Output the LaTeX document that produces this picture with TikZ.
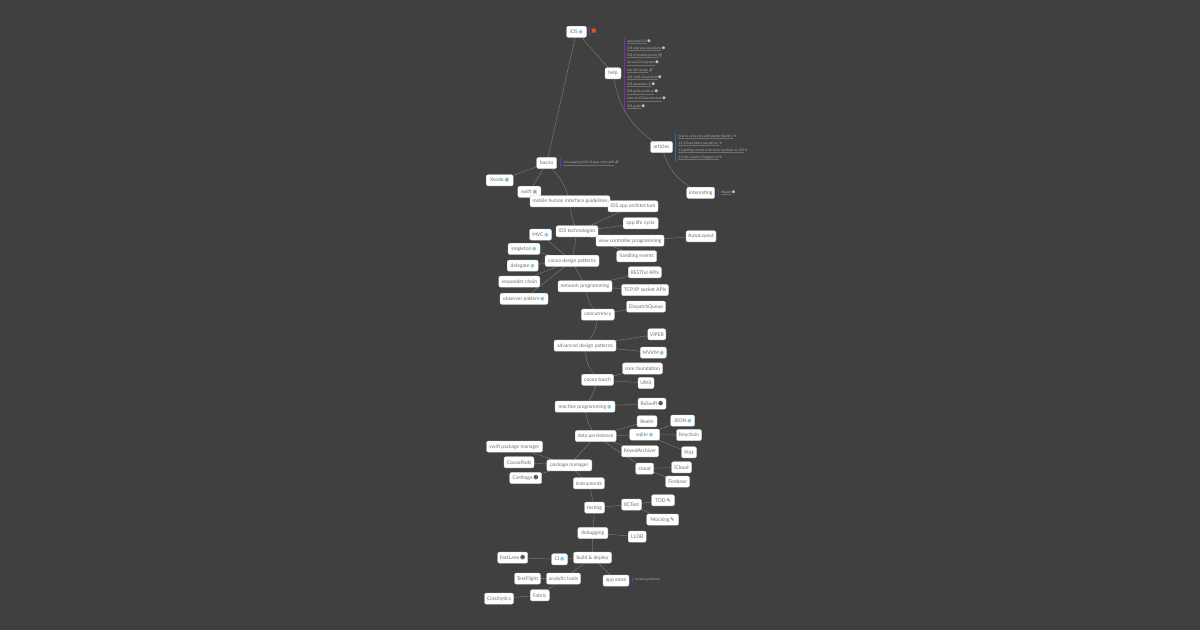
\documentclass[tikz,border=0pt]{standalone}
\usepackage{fontspec}
\setmainfont{Lato}
\newfontfamily\dejavu{DejaVu Sans}
\newfontfamily\emojifont{Noto Emoji}
\usetikzlibrary{backgrounds}
\definecolor{bgdark}{HTML}{404040}
\definecolor{nodetext}{HTML}{707070}
\definecolor{edgegray}{HTML}{858585}
\definecolor{barpurple}{HTML}{7A2DB0}
\definecolor{barblue}{HTML}{2F6E9E}
\definecolor{linktext}{HTML}{B0B0B0}
\definecolor{linkrule}{HTML}{6E6E6E}
\definecolor{globeblue}{HTML}{8CCBEA}
\definecolor{iconred}{HTML}{E8501F}
\definecolor{iconbox}{HTML}{6FA9C9}
\newcommand\globeicon{\,{\dejavu\textcolor{globeblue}{●}}}
\newcommand\faceicon{\,{\dejavu\textcolor{black!75}{☻}}}
\newcommand\faceleaf{\,\smash{\dejavu\textcolor{white!85!black}{☻}}}
\newcommand\penicon{\,{\dejavu\textcolor{black!75}{✎}}}
\newcommand\penleaf{\,\smash{\dejavu\textcolor{white!85!black}{✎}}}
\newcommand\linkleaf{\,\smash{\emojifont\textcolor{white!80!black}{🔗}}}
\newcommand\docleaf{\,\smash{\emojifont\textcolor{white}{📄}}}
\newcommand\boxicon{\,{\dejavu\textcolor{iconbox}{▣}}}
\newsavebox\leafbox
\newcommand\thinline[1]{\sbox\leafbox{#1}\rlap{\textcolor{linkrule}{\vrule height -0.7pt depth 0.95pt width \wd\leafbox}}\usebox\leafbox}
\tikzset{
  box/.style={fill=white,draw=black!18,line width=0.3pt,rounded corners=1.5pt,inner sep=0pt,
    minimum height=8.4pt,font=\fontsize{3.75}{4}\selectfont,text=nodetext,yshift=-0.25pt},
  leaf/.style={anchor=west,inner sep=0pt,font=\fontsize{2.45}{3}\selectfont,text=linktext},
  edge/.style={draw=edgegray,line width=0.38pt,dash pattern=on 1.1pt off 0.5pt},
  bar/.style={line width=0.8pt}
}
\newcommand\nd[5]{\node[box,minimum width=#4*0.75pt] (#1) at (#2,#3) {#5};}
% name, x, y, underlined text, icon
\newcommand\lf[5]{\node[leaf] (#1) at (#2,#3) {\thinline{#4}#5};}
\begin{document}
\begin{tikzpicture}[x=0.75pt,y=-0.75pt]
\useasboundingbox (0,0) rectangle (1200,630);
\nd{ios}{576.5}{31.5}{20}{iOS\globeicon}
\nd{help}{613}{73}{16}{help}
\nd{articles}{661.5}{146.7}{22}{articles}
\nd{interesting}{700.7}{192.5}{28}{interesting}
\nd{basics}{546.7}{162.7}{20}{basics}
\nd{xcode}{499.7}{180}{27}{Xcode\boxicon}
\nd{swift}{529.3}{191.5}{23}{swift\boxicon}
\nd{mobile}{570}{201}{80}{mobile human interface guidelines}
\nd{arch}{633}{206}{50}{iOS app architecture}
\nd{tech}{577}{231}{42}{iOS technologies}
\nd{life}{640.7}{223}{35}{app life cycle}
\nd{vc}{630}{240.3}{68}{view controller programming}
\nd{auto}{701}{236}{30}{AutoLayout}
\nd{events}{636.7}{256}{40}{handling events}
\nd{mvc}{540.5}{234.3}{22}{MVC\globeicon}
\nd{single}{524}{248.5}{32}{singleton\globeicon}
\nd{cocoa}{572}{260.5}{54}{cocoa design patterns}
\nd{delegate}{522.7}{265.3}{31}{delegate\globeicon}
\nd{responder}{519.3}{281.3}{41}{responder chain}
\nd{observer}{524}{298.5}{48}{observer pattern\globeicon}
\nd{rest}{644.8}{272}{33}{RESTful APIs}
\nd{network}{585}{286}{54}{network programming}
\nd{tcp}{645}{289.7}{47}{TCP/IP socket APIs}
\nd{dispatch}{646}{306.3}{39}{DispatchQueue}
\nd{concur}{597.8}{314.3}{33}{concurrency}
\nd{viper}{656.8}{334}{18}{VIPER}
\nd{advanced}{585}{345.3}{62}{advanced design patterns}
\nd{mvvm}{653.3}{352.3}{26}{MVVM\globeicon}
\nd{core}{642.5}{368.2}{40}{core foundation}
\nd{touch}{597.5}{379.5}{32}{cocoa touch}
\nd{uikit}{646}{382.7}{16}{UIKit}
\nd{rx}{652}{403.3}{28}{RxSwift\faceicon}
\nd{reactive}{585}{406.3}{60}{reactive programming\globeicon}
\nd{realm}{647}{421}{20}{Realm}
\nd{json}{682.7}{420.3}{24}{JSON\globeicon}
\nd{sqlite}{644.7}{434.3}{30}{sqlite\globeicon}
\nd{keychain}{689}{434.7}{25}{Keychain}
\nd{data}{595.7}{435.7}{41}{data persistence}
\nd{keyed}{640}{451}{37}{KeyedArchiver}
\nd{plist}{689}{452}{15}{Plist}
\nd{cloud}{644.7}{468.3}{18}{cloud}
\nd{icloud}{681.5}{467}{20}{iCloud}
\nd{firebase}{677.5}{481.3}{24}{Firebase}
\nd{spm}{514.5}{446.3}{56}{swift package manager}
\nd{pods}{519}{462}{30}{CocoaPods}
\nd{package}{569.3}{465}{45}{package manager}
\nd{carthage}{525.7}{477.7}{32}{Carthage\faceicon}
\nd{instr}{588.8}{483}{31}{instruments}
\nd{tdd}{663}{500}{23}{TDD\penicon}
\nd{xctest}{631.5}{504.3}{20}{XCTest}
\nd{testing}{594.5}{507.3}{20}{testing}
\nd{mocking}{662.7}{519.3}{32}{Mocking\penicon}
\nd{debug}{592.8}{532.7}{30}{debugging}
\nd{lldb}{637.2}{536.3}{18}{LLDB}
\nd{fast}{512.7}{557.3}{30}{FastLane\faceicon}
\nd{ci}{559.5}{559}{16}{CI\globeicon}
\nd{build}{592.5}{557.3}{38}{build \& deploy}
\nd{flight}{527.5}{578.3}{26}{TestFlight}
\nd{analytic}{563.5}{578.3}{34}{analytic tools}
\nd{appstore}{616}{580.3}{26}{app store}
\nd{fabric}{539.8}{595}{19}{Fabric}
\nd{crash}{499}{598.3}{29}{Crashlytics}
% leaf links
\node[inner sep=0pt,font=\fontsize{4}{4}\selectfont] (redicon) at (594,31.5) {{\dejavu\textcolor{iconred}{■}}};
\lf{h1}{627}{41.5}{awesome iOS}{\faceleaf}
\lf{h2}{627}{48.7}{iOS interview questions}{\faceleaf}
\lf{h3}{627}{56}{iOS UI prototype doc}{\docleaf}
\lf{h4}{627}{63.2}{secure iOS app doc}{\faceleaf}
\lf{h5}{627}{70.5}{top iOS design}{\linkleaf}
\lf{h6}{627}{77.7}{iOS swift cheat sheet}{\faceleaf}
\lf{h7}{627}{85}{iOS awesome UI}{\faceleaf}
\lf{h8}{627}{92.2}{iOS good practices}{\faceleaf}
\lf{h9}{627}{99.4}{intro to iOS architecture}{\faceleaf}
\lf{h10}{627}{106.5}{iOS guide}{\faceleaf}
\lf{a1}{678}{137}{how to write nice with platformbuild y}{\penleaf}
\lf{a2}{678}{144}{1.1 iOS architect pro pdf tu..}{\penleaf}
\lf{a3}{678}{151}{1.2 getting started with stack overflow on iOS}{\penleaf}
\lf{a4}{678}{158}{1.2 the review is flagged out}{\penleaf}
\lf{b1}{563}{163.2}{1.4 assigning iOS UI apps with swift}{\linkleaf}
\lf{i1}{721}{193}{iWatch}{\faceleaf}
\node[leaf] (s1) at (635,580) {review guidelines};
\begin{scope}[on background layer]
\fill[bgdark] (0,0) rectangle (1200,630);
\draw[bar,barpurple] (589.5,27) -- (589.5,35);
\draw[bar,barpurple] (624.5,38) -- (624.5,109);
\draw[bar,barblue] (675.5,133) -- (675.5,162);
\draw[bar,barpurple] (560.5,157) -- (560.5,167);
\draw[bar,barpurple] (718.5,189) -- (718.5,196);
\draw[bar,barpurple] (632.7,577) -- (632.7,583);
\path[edge] (ios) -- (basics);
\path[edge] (ios) -- (help);
\path[edge] (help) to[bend right=22] (articles);
\path[edge] (articles) to[bend right=20] (interesting);
\path[edge] (basics) -- (xcode);
\path[edge] (basics) -- (swift);
\path[edge] (basics) to[bend left=12] (mobile);
\path[edge] (mobile) to[bend right=8] (tech);
\path[edge] (tech) -- (arch);
\path[edge] (tech) -- (life);
\path[edge] (tech) -- (vc);
\path[edge] (tech) -- (events);
\path[edge] (vc) -- (auto);
\path[edge] (tech) -- (cocoa);
\path[edge] (cocoa) -- (mvc);
\path[edge] (cocoa) -- (single);
\path[edge] (cocoa) -- (delegate);
\path[edge] (cocoa) -- (responder);
\path[edge] (cocoa) -- (observer);
\path[edge] (cocoa) -- (network);
\path[edge] (network) -- (rest);
\path[edge] (network) -- (tcp);
\path[edge] (network) to[bend right=12] (concur);
\path[edge] (concur) -- (dispatch);
\path[edge] (concur) to[bend left=15] (advanced);
\path[edge] (advanced) -- (viper);
\path[edge] (advanced) -- (mvvm);
\path[edge] (advanced) to[bend right=15] (touch);
\path[edge] (touch) -- (core);
\path[edge] (touch) -- (uikit);
\path[edge] (touch) to[bend left=8] (reactive);
\path[edge] (reactive) -- (rx);
\path[edge] (reactive) to[bend right=12] (data);
\path[edge] (data) -- (realm);
\path[edge] (data) -- (sqlite);
\path[edge] (data) -- (keyed);
\path[edge] (data) -- (cloud);
\path[edge] (sqlite) -- (json);
\path[edge] (sqlite) -- (keychain);
\path[edge] (sqlite) -- (plist);
\path[edge] (cloud) -- (icloud);
\path[edge] (cloud) -- (firebase);
\path[edge] (data) -- (package);
\path[edge] (package) -- (spm);
\path[edge] (package) -- (pods);
\path[edge] (package) -- (carthage);
\path[edge] (package) -- (instr);
\path[edge] (instr) -- (testing);
\path[edge] (testing) -- (xctest);
\path[edge] (xctest) -- (tdd);
\path[edge] (xctest) -- (mocking);
\path[edge] (testing) -- (debug);
\path[edge] (debug) -- (lldb);
\path[edge] (debug) -- (build);
\path[edge] (build) -- (ci);
\path[edge] (ci) -- (fast);
\path[edge] (build) -- (analytic);
\path[edge] (analytic) -- (flight);
\path[edge] (analytic) -- (fabric);
\path[edge] (fabric) -- (crash);
\path[edge] (build) -- (appstore);
\end{scope}
\end{tikzpicture}
\end{document}
